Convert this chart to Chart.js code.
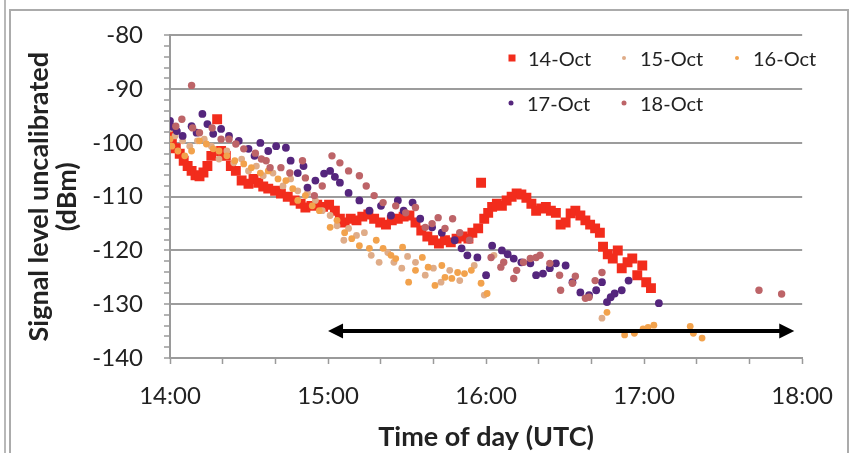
<!DOCTYPE html>
<html lang="en">
<head>
<meta charset="utf-8">
<title>Signal level vs time of day</title>
<script src="https://cdn.jsdelivr.net/npm/chart.js@4.4.1/dist/chart.umd.min.js"></script>
<style>
  html, body { margin: 0; padding: 0; background: #fff; }
  #wrap { position: relative; width: 851px; height: 453px; overflow: hidden;
          font-family: Lato, 'Open Sans', sans-serif; color: #222; }
  /* grey frame of the pasted chart */
  .edge  { position: absolute; left: 4px; top: 0; width: 2px; height: 453px; background: #b8b8b8; }
  .frame { position: absolute; left: 9px; top: 9px; width: 836px; height: 470px;
           border: 2px solid #ababab; border-bottom: none; }
  canvas { position: absolute; left: 0; top: 0; }
  /* legend inside the plot, top right */
  .leg { position: absolute; font-size: 20px; line-height: 20px; white-space: nowrap; }
  .leg i { position: absolute; top: 50%; transform: translate(-50%, -50%); border-radius: 50%; }
  .leg.item-0 { left: 528px; top: 48px; }
  .leg.item-1 { left: 640px; top: 48px; }
  .leg.item-2 { left: 753px; top: 48px; }
  .leg.item-3 { left: 527px; top: 93px; }
  .leg.item-4 { left: 640px; top: 93px; }
</style>
</head>
<body>
<div id="wrap">
  <div class="edge"></div>
  <div class="frame"></div>
  <canvas id="chart" width="851" height="453"></canvas>
</div>
<script>
'use strict';

// x = minutes after 14:00 UTC, y = signal level in dBm
const TIME_LABELS = ['14:00', '15:00', '16:00', '17:00', '18:00'];
const DAY_LABELS  = ['14-Oct', '15-Oct', '16-Oct', '17-Oct', '18-Oct'];

const OCT14 = [
  [0, -97.8], [0.7, -99.6], [2.2, -101], [3.7, -102], [5.2, -103.3], [6.7, -104.3],
  [8.2, -105.2], [9.7, -106], [11.2, -106.2], [12.7, -105.5], [14.2, -104.3], [15.7, -102.4],
  [17.9, -95.6], [19.4, -101.5], [21.2, -102.4], [23.1, -104.3], [25, -105.2], [27.2, -107],
  [29.8, -107.6], [31.7, -106.7], [33.5, -107.4], [35.4, -108.1], [37.3, -108.5], [39.9, -108.9],
  [42.1, -109.4], [44.7, -110], [47.3, -110.7], [49.6, -111.3], [51.4, -112], [53.7, -111.7],
  [55.9, -111.5], [58.1, -111.9], [60.4, -111.5], [62.6, -112.6], [64.5, -114.1], [66.3, -114.8],
  [68.6, -114.1], [70.8, -114.4], [73, -113.7], [75.3, -113.3], [77.5, -114.1], [79.8, -114.8],
  [82, -115.2], [84.2, -114.4], [86.5, -114.1], [88.7, -113.7], [90.9, -113.5], [93.2, -114.8],
  [95.4, -116.3], [97.7, -117.4], [99.9, -118.1], [102.1, -118.7], [104.4, -118.1], [106.6, -118.5],
  [108.8, -117.8], [111.1, -117.4], [113.3, -117.8], [114.8, -116.7], [117, -115.9], [118.1, -107.4],
  [119.3, -114.1], [120.8, -113], [122.3, -111.9], [124.1, -111.3], [126, -111.7], [127.8, -110.7],
  [129.7, -110], [131.6, -109.4], [133.4, -109.6], [135.3, -110.2], [137.2, -111.3], [139, -112.6],
  [140.9, -112.2], [142.7, -111.9], [144.6, -112.6], [146.5, -113], [148.3, -115.2], [150.2, -114.8],
  [152.1, -113.1], [153.9, -112.6], [155.8, -113.5], [157.7, -114.4], [159.5, -115.2], [161.4, -115.9],
  [163.2, -116.7], [164.4, -119.3], [166.2, -120.7], [168.1, -121.5], [170, -120], [171.5, -123.3],
  [173.7, -122.2], [175.5, -121.5], [177.4, -124.6], [179.3, -122.8], [180.8, -125.9], [182.6, -127]
];

const OCT15 = [
  [0, -97.4], [1.9, -98.7], [4.8, -99.6], [7.5, -100.6], [10.4, -99.6], [13, -99.3],
  [15.7, -100.6], [18.6, -103], [21.6, -101.5], [24.2, -103.7], [27.2, -103], [29.8, -105.2],
  [32.8, -104.3], [35.4, -106.1], [39.1, -105.6], [42.9, -108], [45.8, -106.7], [48.5, -108.9],
  [52.2, -109.3], [55.2, -110.7], [57.8, -112.6], [60.8, -113.5], [63.4, -115.4], [66, -118.1],
  [67.8, -115.9], [70.8, -117.2], [73.8, -116.7], [76.4, -120.9], [79.4, -122.2], [82.7, -120.4],
  [85, -122.2], [88, -123.3], [90.2, -121.1], [93.2, -122.2], [96.9, -124.6], [100, -123.3],
  [102.9, -125.9], [106.2, -123.7], [110, -125.6], [115.5, -122.8], [119.3, -128.3], [123, -120.9],
  [164, -132.6]
];

const OCT16 = [
  [0, -99.3], [0.7, -100.6], [3, -101.5], [5.6, -102.4], [8.2, -101.5], [11.2, -99.6],
  [13.8, -100.2], [16.4, -101.1], [18.6, -101.5], [21.6, -102.4], [24.6, -103.3], [28, -103.9],
  [30.9, -104.6], [34.3, -105.6], [37.3, -105.2], [41, -106.7], [44, -107], [46.6, -108.5],
  [48.5, -110.7], [51.4, -109.8], [54, -111.7], [56.7, -112.6], [60.8, -115.7], [63.4, -114.4],
  [66.3, -116.7], [69, -117.8], [71.9, -119.1], [75.7, -119.6], [78.3, -118.1], [80.9, -119.6],
  [83.9, -120.9], [85.7, -121.5], [88.3, -119.4], [90.6, -125.9], [93.2, -123.7], [95.8, -121.3],
  [98, -123.1], [100.6, -126.5], [103.2, -122.8], [104.4, -125], [107, -125.2], [109.2, -124.1],
  [111.8, -124.3], [114.4, -123.7], [118.1, -126.1], [120.4, -128], [165.9, -131.5], [172.6, -135.7],
  [176.3, -135.4], [179.6, -134.6], [181.5, -134.3], [183.7, -133.9], [197.5, -134.1], [198.7, -135.4],
  [202, -136.3]
];

const OCT17 = [
  [0, -95.9], [1.1, -97], [2.6, -97.8], [4.8, -98.7], [8.2, -96.9], [10.1, -98.1],
  [12.3, -94.6], [14.2, -96.5], [16.4, -98.3], [19.4, -97.4], [22.4, -98.7], [26.1, -99.6],
  [29.8, -101.1], [32.1, -102.4], [34.3, -100], [37.3, -101.5], [40.3, -100.6], [44, -100.9],
  [45.8, -103.3], [48.5, -105.6], [50.7, -104.3], [52.2, -108.3], [55.2, -107], [58.5, -105.7],
  [60.8, -105.2], [62.6, -106.3], [64.5, -107.4], [67.8, -109.3], [71.9, -110.7], [75.7, -112.6],
  [80.1, -111.7], [83.9, -113.5], [86.5, -110.7], [88.7, -112.6], [92.1, -111.1], [95, -114.1],
  [99.5, -115.7], [103.2, -116.7], [108.1, -118.1], [110.7, -119.6], [112.9, -120.9], [116.7, -121.3],
  [120, -124.6], [122.3, -119.1], [126, -120], [128.2, -120.7], [130.5, -121.5], [133.4, -122.2],
  [136.8, -122.4], [139, -124.6], [141.6, -124.3], [144.2, -123.3], [146.5, -122.4], [150.2, -122.8],
  [152.8, -125.9], [155.8, -127.8], [159.1, -128.3], [161.8, -127.4], [164, -125.9], [165.9, -129.6],
  [167.3, -128.7], [168.8, -128], [171.5, -127.4], [174.1, -125.6], [185.6, -129.8]
];

const OCT18 = [
  [2.2, -96.9], [4.5, -95.6], [8.2, -89.3], [8.6, -97.2], [11.2, -98.1], [16, -97.2],
  [19.4, -99.3], [22.4, -99.3], [25, -100.2], [28, -101.1], [32.4, -101.9], [34.7, -103],
  [36.5, -103.3], [38, -104.6], [42.1, -104.6], [45.5, -105.6], [50.3, -103.3], [51.4, -106.5],
  [54.8, -109.8], [57.8, -108], [61.5, -102.4], [64.5, -103.7], [67.8, -105.2], [71.9, -106.1],
  [74.5, -108], [77.5, -109.8], [80.9, -111.1], [85.7, -111.7], [89.5, -113], [93.2, -112],
  [96.9, -115.7], [99.5, -115], [101.8, -113.9], [104.4, -115.9], [107.3, -114.1], [110, -116.7],
  [113.7, -118.1], [121.9, -121.3], [125.6, -123.1], [126.7, -122.2], [130.5, -125.2], [131.6, -123.7],
  [134.2, -122.2], [136.8, -121.5], [139, -121.3], [140.5, -120.9], [144.2, -122.4], [147.9, -124.6],
  [148.3, -127.4], [152.8, -126.1], [153.9, -124.8], [157.7, -128.9], [159.1, -128.7], [161.4, -125.6],
  [164, -124.1], [223.6, -127.4], [232.2, -128.1]
];

// Double-headed arrow: from 15:00 to about 17:57, drawn at -135 dBm
const ARROW_SPAN  = [60, 237];
const ARROW_LEVEL = -135;

// Marker style per day (Excel-like)
const SERIES = [
  { data: OCT14, color: '#f22c1c', shape: 'rect',   radius: 7,   legendSize: 7 },
  { data: OCT15, color: '#dfac88', shape: 'circle', radius: 3.4, legendSize: 4 },
  { data: OCT16, color: '#f2a24c', shape: 'circle', radius: 3.4, legendSize: 4 },
  { data: OCT17, color: '#55267d', shape: 'circle', radius: 3.9, legendSize: 5 },
  { data: OCT18, color: '#bd6468', shape: 'circle', radius: 3.7, legendSize: 5 }
];

function toPoints(pairs) {
  return pairs.map(([t, dbm]) => ({ x: t, y: dbm }));
}

const datasets = SERIES.map((s, i) => ({
  label:           DAY_LABELS[i],
  data:            toPoints(s.data),
  pointStyle:      s.shape,
  pointRadius:     s.radius,
  pointBackgroundColor: s.color,
  pointBorderWidth: 0,
  borderColor:     s.color,
  showLine:        false,
  // Excel draws later series on top
  order:           SERIES.length - i
}));

// Arrow below the data, drawn through the chart scales
const arrowPlugin = {
  id: 'spanArrow',
  afterDatasetsDraw(chart) {
    const { ctx, scales: { x, y } } = chart;
    const x1 = x.getPixelForValue(ARROW_SPAN[0]);
    const x2 = x.getPixelForValue(ARROW_SPAN[1]);
    const yy = y.getPixelForValue(ARROW_LEVEL);
    const head = 15, half = 7.5;
    ctx.save();
    ctx.fillStyle = '#000';
    ctx.strokeStyle = '#000';
    ctx.lineWidth = 4;
    ctx.beginPath();
    ctx.moveTo(x1 + head - 1, yy);
    ctx.lineTo(x2 - head + 1, yy);
    ctx.stroke();
    ctx.beginPath();
    ctx.moveTo(x1, yy);
    ctx.lineTo(x1 + head, yy - half);
    ctx.lineTo(x1 + head, yy + half);
    ctx.closePath();
    ctx.moveTo(x2, yy);
    ctx.lineTo(x2 - head, yy - half);
    ctx.lineTo(x2 - head, yy + half);
    ctx.closePath();
    ctx.fill();
    ctx.restore();
  }
};

Chart.defaults.font.family = "Lato, 'Open Sans', sans-serif";
Chart.defaults.color = '#222';

new Chart(document.getElementById('chart'), {
  type: 'scatter',
  data: { datasets },
  options: {
    responsive: false,
    animation: false,
    layout: { padding: { left: 0, top: 34, right: 38, bottom: 0 } },
    plugins: {
      legend:  { display: false },
      tooltip: { enabled: false }
    },
    scales: {
      x: {
        type: 'linear',
        min: 0,
        max: 240,
        afterFit(scale) { scale.height = 95; },
        ticks: {
          stepSize: 20,
          autoSkip: false,
          maxRotation: 0,
          padding: 18,
          font: { size: 24 },
          color: '#222',
          // only whole hours are labelled, minor ticks every 20 min
          callback(v) { return v % 60 === 0 ? TIME_LABELS[v / 60] : ''; }
        },
        grid:   { drawOnChartArea: false, tickLength: 6, tickColor: '#9a9a9a', tickWidth: 1.5 },
        border: { color: '#9a9a9a', width: 2 },
        title: {
          display: true,
          text: 'Time of day (UTC)',
          font: { size: 27, weight: 'bold' },
          color: '#222',
          padding: { top: 0, bottom: 0 }
        }
      },
      y: {
        min: -140,
        max: -80,
        afterFit(scale) { scale.width = 170; },
        ticks: {
          stepSize: 2,
          autoSkip: false,
          padding: 21,
          font: { size: 24 },
          color: '#222',
          callback(v) { return v % 10 === 0 ? String(v) : ''; }
        },
        grid: {
          // grid lines every 10 dBm, minor tick marks every 2 dBm
          color(c) { return c.tick && c.tick.value % 10 === 0 ? '#9c9c9c' : 'rgba(0,0,0,0)'; },
          lineWidth: 2,
          tickLength: 6,
          tickColor: '#9a9a9a',
          tickWidth: 1.5
        },
        border: { color: '#9a9a9a', width: 2 },
        title: {
          display: true,
          text: ['Signal level uncalibrated', '(dBm)'],
          font: { size: 27, weight: 'bold', lineHeight: 1.05 },
          color: '#222',
          padding: { top: 25 }
        }
      }
    }
  },
  plugins: [arrowPlugin]
});

// HTML legend, two rows in the top right corner of the plot
const wrap = document.getElementById('wrap');
SERIES.forEach((s, i) => {
  const item = document.createElement('div');
  item.className = 'leg item-' + i;
  const mark = document.createElement('i');
  mark.style.left   = '-16px';
  mark.style.width  = s.legendSize + 'px';
  mark.style.height = s.legendSize + 'px';
  mark.style.background = s.color;
  if (s.shape === 'rect') mark.style.borderRadius = '0';
  item.appendChild(mark);
  item.appendChild(document.createTextNode(DAY_LABELS[i]));
  wrap.appendChild(item);
});
</script>
</body>
</html>
